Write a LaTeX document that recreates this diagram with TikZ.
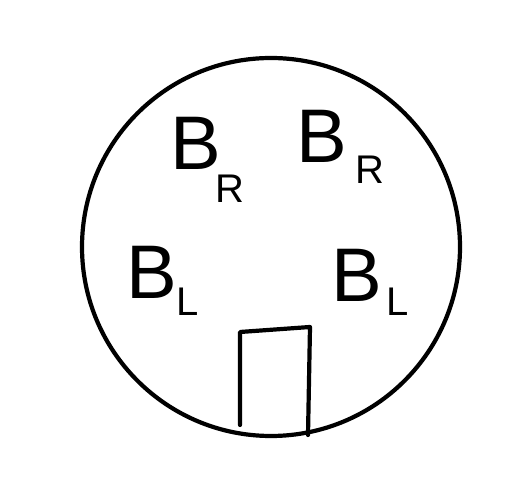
\documentclass[tikz,border=0pt]{standalone}
\usepackage{fontspec}
\setmainfont{Liberation Sans}
\begin{document}
\begin{tikzpicture}[x=1pt,y=1pt,
  big/.style={inner sep=0pt,font=\fontsize{76}{76}\selectfont},
  small/.style={inner sep=0pt,font=\fontsize{40}{40}\selectfont},
  stroke/.style={line width=4.2pt,line join=round,line cap=round}]
\useasboundingbox (0,0) rectangle (525,497);
\node[stroke,draw,circle,minimum size=378pt,inner sep=0pt] (c) at (271,250) {};
\node[big] (b1) at (196,354) {B};
\node[small] (r1) at (230,308) {R};
\node[big] (b2) at (322,361) {B};
\node[small] (r2) at (370,327) {R};
\node[big] (b3) at (152,225) {B};
\node[small] (l3) at (188,195) {L};
\node[big] (b4) at (357,222) {B};
\node[small] (l4) at (398,195) {L};
\draw[stroke] (240,72) -- (240,165) -- (310,170) -- (308,62);
\end{tikzpicture}
\end{document}
